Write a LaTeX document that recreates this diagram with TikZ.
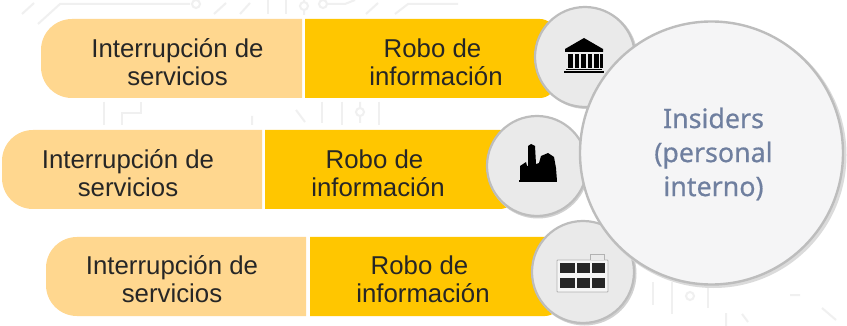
\documentclass[tikz,border=0pt]{standalone}
\usepackage{fontspec}
\setmainfont{Liberation Sans}
\newfontfamily\inside[RawFeature={embolden=0.6}]{Noto Sans}
\definecolor{lightbar}{HTML}{FFD78F}
\definecolor{darkbar}{HTML}{FFC600}
\definecolor{ringc}{HTML}{BDBDBD}
\definecolor{smallc}{HTML}{EAEAEA}
\definecolor{bigc}{HTML}{F5F5F6}
\definecolor{slate}{HTML}{6F7F9F}
\definecolor{trace}{HTML}{F0F0F0}
\definecolor{ink}{HTML}{262626}
\newcommand{\robotext}{Robo de\rule{7pt}{0pt}\\información}
\tikzset{
  lbar/.style={fill=lightbar,draw=none},
  dbar/.style={fill=darkbar,draw=none},
  barlabel/.style={font=\fontsize{25.8}{28}\selectfont,text=ink,align=center,inner sep=0pt},
  smallcirc/.style={circle,fill=smallc,draw=ringc,line width=2.2pt,minimum size=100pt,inner sep=0pt},
  bigcirc/.style={circle,fill=bigc,draw=ringc,line width=2.4pt,minimum size=263pt,inner sep=0pt},
  bigtext/.style={align=center,text=slate,inner sep=0pt,font=\inside\fontsize{26.8}{34}\selectfont},
  tracel/.style={draw=trace,line width=2pt,fill=none},
  iconf/.style={fill=black,draw=none},
}
\begin{document}
\begin{tikzpicture}[x=1pt,y=-1pt]
\useasboundingbox (0,0) rectangle (847,326);
\fill[white] (0,0) rectangle (847,326);
% faint circuit traces
\draw[tracel] (22,14) -- (34,3);
\draw[tracel] (38,24) -- (60,4) -- (190,4);
\draw[tracel] (196,4) circle (4);
\draw[tracel] (214,14) -- (226,3) (240,14) -- (250,3);
\draw[tracel] (268,0) -- (268,14) (286,0) -- (286,14);
\draw[tracel] (304,0) -- (304,2) (304,6) circle (4) (304,10) -- (304,15);
\draw[tracel] (323,4) circle (4) (327,4) -- (345,4) -- (355,0);
\draw[tracel] (366,14) -- (378,3) (395,14) -- (408,4) -- (458,4);
\draw[tracel] (104,102) -- (104,125);
\draw[tracel] (122,125) -- (122,113) -- (141,113) -- (141,102);
\draw[tracel] (252,116) -- (252,125) (296,110) -- (305,122);
\draw[tracel] (322,102) -- (322,123) (342,102) -- (342,125) (379,102) -- (379,125);
\draw[tracel] (360,102) -- (360,108) (360,112) circle (4) (360,116) -- (360,123);
\draw[tracel] (653,282) -- (653,305) (672,282) -- (672,314) (708,285) -- (708,308);
\draw[tracel] (690,296) circle (4);
\draw[tracel] (726,313) -- (726,326) (742,314) -- (748,322);
\draw[tracel] (790,295) -- (800,295) (822,308) -- (836,320);
% bars
\path[lbar] (302,19) [rounded corners=31pt] -- (41,19) -- (41,98) [sharp corners] -- (302,98) -- cycle;
\path[dbar] (305,19) [rounded corners=15pt] -- (555,19) -- (555,98) [sharp corners] -- (305,98) -- cycle;
\path[lbar] (262,130) [rounded corners=31pt] -- (2,130) -- (2,209) [sharp corners] -- (262,209) -- cycle;
\path[dbar] (265,130) [rounded corners=15pt] -- (515,130) -- (515,209) [sharp corners] -- (265,209) -- cycle;
\path[lbar] (306,237) [rounded corners=31pt] -- (46,237) -- (46,316) [sharp corners] -- (306,316) -- cycle;
\path[dbar] (310,237) [rounded corners=15pt] -- (560,237) -- (560,316) [sharp corners] -- (310,316) -- cycle;
% labels
\node[barlabel] (i1) at (177.5,62) {Interrupción de\\servicios};
\node[barlabel] (r1) at (436,62) {\robotext};
\node[barlabel] (i2) at (128,173) {Interrupción de\\servicios};
\node[barlabel] (r2) at (378,173) {\robotext};
\node[barlabel] (i3) at (172,279) {Interrupción de\\servicios};
\node[barlabel] (r3) at (423,279) {\robotext};
% small circles
\fill[ringc!70] (586.5,58) circle (51);
\node[smallcirc] (c1) at (585,57) {};
\fill[ringc!70] (538,167.5) circle (51);
\node[smallcirc] (c2) at (537,166) {};
\fill[ringc!70] (584.5,273.5) circle (52);
\node[smallcirc,minimum size=102pt] (c3) at (583,272) {};
% temple icon
\fill[iconf] (565,49) -- (584,38) -- (603,49) -- (603,52) -- (565,52) -- cycle;
\foreach \x in {568,574.5,581,587.5,594}{\fill[iconf] (\x,54) rectangle +(4.5,14);}
\fill[iconf] (600,54) rectangle +(2.5,14);
\fill[iconf] (566,69) rectangle (602,70.5);
\fill[iconf] (564,71) rectangle (604,73);
% factory icon
\fill[iconf] (520,181) -- (520,166) -- (526,162) -- (527,166) -- (528,166) -- (528,146) -- (531,144) -- (535,146) -- (536,164) -- (539,163) -- (541,156) -- (548,153) -- (554,157) -- (556,168) -- (557,181) -- cycle;
\fill[iconf] (519,180) rectangle (557,182);
% building icon
\path[draw=gray!60,fill=white!92!gray,line width=.8pt,rounded corners=.8pt] (557,260) rectangle (608,292);
\path[draw=gray!60,fill=smallc,line width=.8pt] (590,260) -- (590,254) -- (604,254) -- (604,260);
\foreach \y in {263,278}{
  \foreach \x/\w in {560/15,577/13,592/13}{\fill[black!85] (\x,\y) rectangle +(\w,10);}
}
% big circle
\fill[ringc!55] (713.5,155) circle (133);
\node[bigcirc] (big) at (711.5,153) {};
\node[bigtext] (bigt) at (713.5,154) {Insiders\\(personal\\interno)};
\end{tikzpicture}
\end{document}
